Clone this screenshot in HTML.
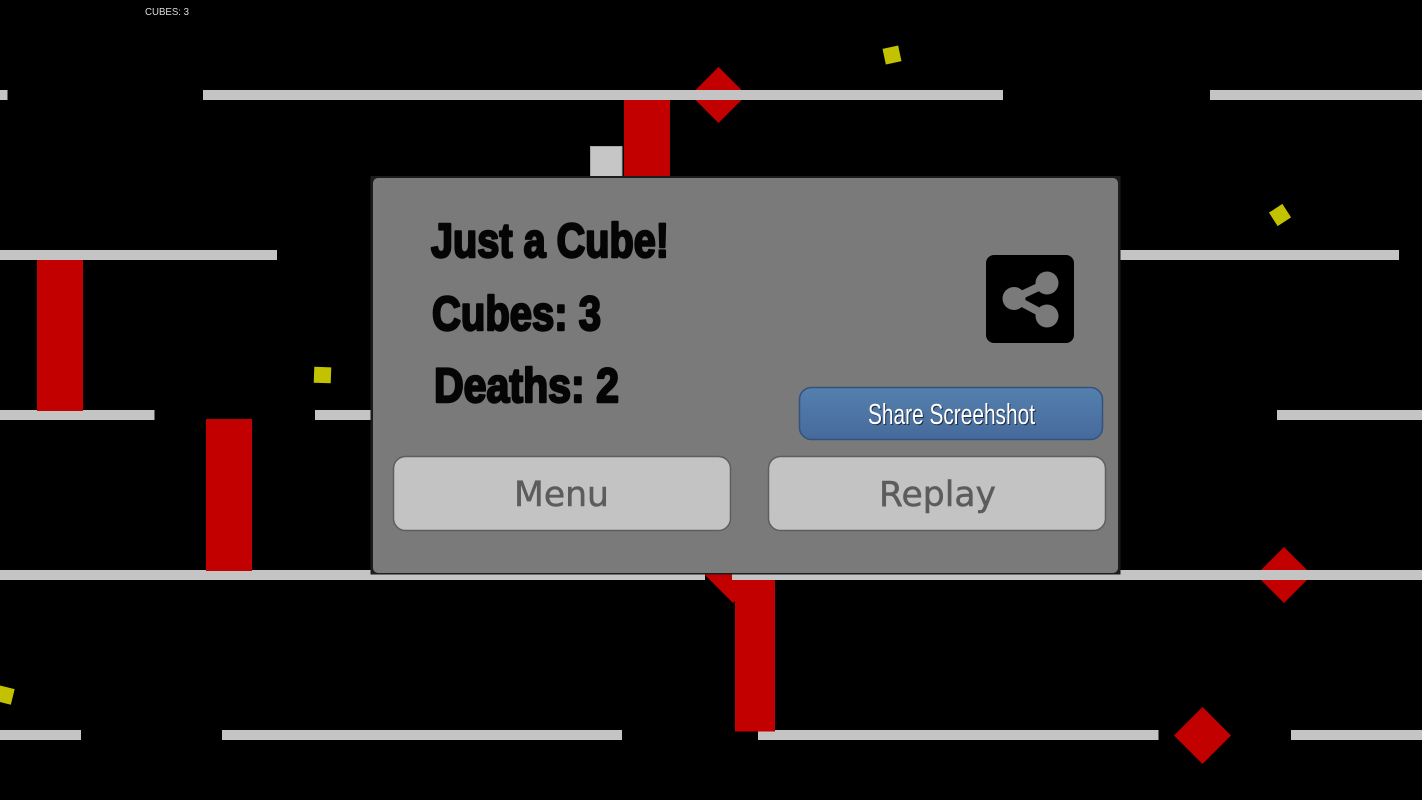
<!DOCTYPE html>
<html><head><meta charset="utf-8"><style>html,body{margin:0;padding:0;background:#000;width:1422px;height:800px;overflow:hidden}svg{display:block}</style></head>
<body>
<svg width="1422" height="800" viewBox="0 0 1422 800" xmlns="http://www.w3.org/2000/svg">
<defs><linearGradient id="b" x1="0" y1="0" x2="0" y2="1"><stop offset="0" stop-color="#5480ae"/><stop offset="1" stop-color="#466a9b"/></linearGradient></defs>
<rect width="1422" height="800" fill="#000"/>
<text x="145" y="15" font-family="Liberation Sans, sans-serif" font-size="10.500" fill="#dcdcdc" textLength="44" lengthAdjust="spacingAndGlyphs">CUBES: 3</text>
<!-- diamonds -->
<g fill="#c20000">
<polygon points="718.5,67 746.5,95 718.5,123 690.5,95"/>
<polygon points="1284,547 1312,575 1284,603 1256,575"/>
<polygon points="733,547 761,575 733,603 705,575"/>
<polygon points="1202.5,707 1231,735.500 1202.5,764 1174,735.500"/>
</g>
<!-- platforms -->
<g fill="#c4c4c4">
<rect x="0" y="90" width="7.500" height="10"/><rect x="203" y="90" width="800" height="10"/><rect x="1210" y="90" width="212" height="10"/>
<rect x="0" y="250" width="277" height="10"/><rect x="1110" y="250" width="289" height="10"/>
<rect x="0" y="410" width="154.500" height="10"/><rect x="315" y="410" width="60" height="10"/><rect x="1277" y="410" width="145" height="10"/>
<rect x="0" y="570" width="705" height="10"/><rect x="732" y="570" width="690" height="10"/>
<rect x="0" y="730" width="81" height="10"/><rect x="222" y="730" width="400" height="10"/><rect x="758" y="730" width="400.500" height="10"/><rect x="1291" y="730" width="131" height="10"/>
</g>
<!-- pillars -->
<g fill="#c20000">
<rect x="624" y="100" width="46" height="77"/>
<rect x="37" y="260" width="46" height="151"/>
<rect x="206" y="419" width="46" height="152"/>
<rect x="735" y="580" width="40" height="151.500"/>
</g>
<rect x="590.500" y="146.500" width="31.500" height="30" fill="#c6c6c6" stroke="#a8a8a8"/>
<!-- yellow -->
<g fill="#c2c200">
<rect x="884" y="47" width="16" height="16" transform="rotate(-12 892 55)"/>
<rect x="1272" y="207" width="16" height="16" transform="rotate(-33 1280 215)"/>
<rect x="314" y="367" width="17" height="16" transform="rotate(2 322 375)"/>
<rect x="-3" y="687" width="16" height="16" transform="rotate(14 5 695)"/>
</g>
<!-- panel -->
<rect x="370.500" y="176" width="750" height="398.500" fill="#1c1c1c"/>
<rect x="373" y="178" width="745" height="395" rx="5" fill="#7a7a7a"/>
<g font-family="Liberation Sans, sans-serif" font-weight="bold" fill="#050505" stroke="#050505" stroke-width="2.400" stroke-linejoin="round">
<text x="431" y="257" font-size="48" textLength="238" lengthAdjust="spacingAndGlyphs">Just a Cube!</text>
<text x="432" y="330" font-size="48" textLength="169" lengthAdjust="spacingAndGlyphs">Cubes: 3</text>
<text x="434" y="402" font-size="48" textLength="185" lengthAdjust="spacingAndGlyphs">Deaths: 2</text>
</g>
<!-- share icon -->
<rect x="986" y="255" width="88" height="88" rx="8" fill="#000"/>
<g fill="#7a7a7a"><circle cx="1047" cy="283" r="11.500"/><circle cx="1014" cy="298.500" r="11.500"/><circle cx="1047" cy="316" r="11.500"/></g>
<path d="M1047 283L1014 298.500L1047 316" fill="none" stroke="#7a7a7a" stroke-width="8"/>
<!-- share button -->
<rect x="799.500" y="387.500" width="303" height="52" rx="12" fill="url(#b)" stroke="#34527c" stroke-width="1.500"/>
<g font-family="Liberation Sans, sans-serif" font-size="29" text-anchor="start">
<text x="869" y="425" fill="#1d2b40" textLength="167" lengthAdjust="spacingAndGlyphs">Share Screehshot</text>
<text x="868" y="424" fill="#fff" textLength="167" lengthAdjust="spacingAndGlyphs">Share Screehshot</text>
</g>
<!-- buttons -->
<rect x="393.500" y="456.500" width="337" height="74" rx="12" fill="#c3c3c3" stroke="#5e5e5e" stroke-width="1.500"/>
<rect x="768.500" y="456.500" width="337" height="74" rx="12" fill="#c3c3c3" stroke="#5e5e5e" stroke-width="1.500"/>
<g font-family="DejaVu Sans, sans-serif" font-size="35" fill="#5c5c5c" stroke="#5c5c5c" stroke-width=".5">
<text x="514" y="506" textLength="95" lengthAdjust="spacingAndGlyphs">Menu</text>
<text x="879" y="506" textLength="117" lengthAdjust="spacingAndGlyphs">Replay</text>
</g>
</svg>
</body></html>
